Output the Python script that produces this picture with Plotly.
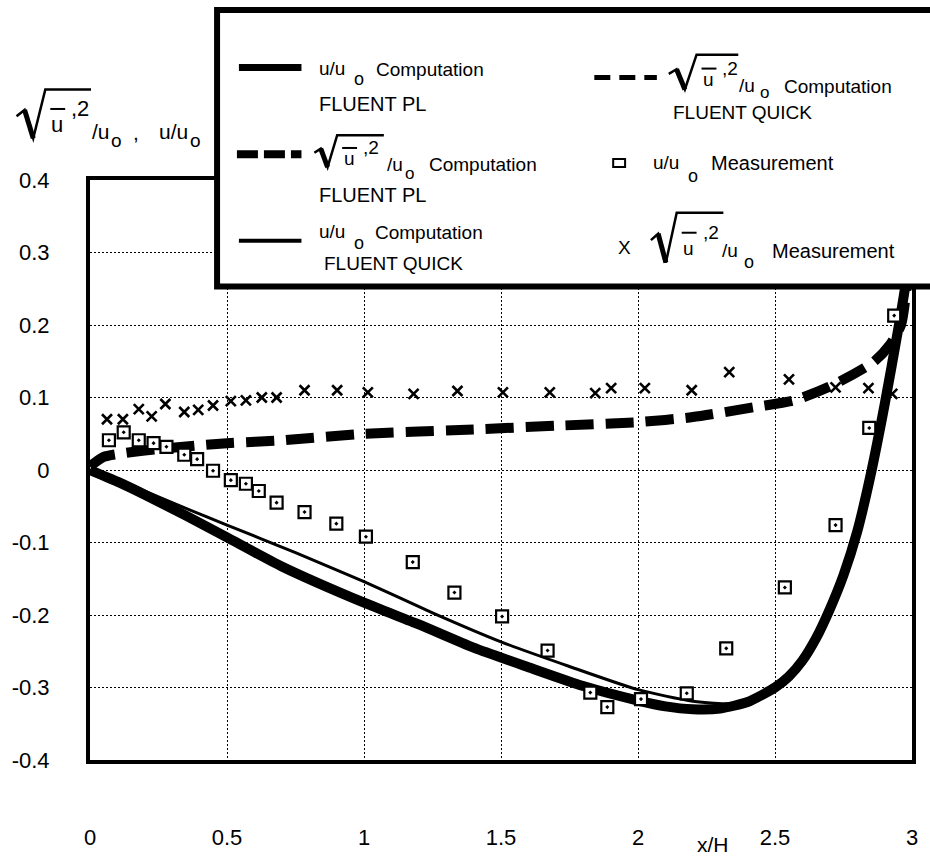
import plotly.graph_objects as go

# ---------------- data ----------------
x_pl_u = [0, 0.1, 0.2, 0.35, 0.5, 0.7, 1.0, 1.2, 1.4, 1.6, 1.8, 2.0, 2.1, 2.2, 2.3, 2.4,
          2.5, 2.55, 2.6, 2.65, 2.7, 2.75, 2.8, 2.85, 2.9, 2.95, 2.98, 3.0]
y_pl_u = [0, -0.016, -0.034, -0.063, -0.093, -0.133, -0.183, -0.213, -0.245, -0.272, -0.298,
          -0.318, -0.326, -0.330, -0.329, -0.320, -0.300, -0.285, -0.263, -0.232, -0.192,
          -0.145, -0.085, -0.005, 0.09, 0.195, 0.265, 0.33]

x_quick_u = [0, 0.1, 0.2, 0.35, 0.5, 0.75, 1.0, 1.25, 1.5, 1.75, 2.0, 2.2, 2.35, 2.45,
             2.5, 2.55, 2.6, 2.65, 2.7, 2.75, 2.8, 2.85, 2.9, 2.95, 2.98, 3.0]
y_quick_u = [0, -0.013, -0.029, -0.053, -0.076, -0.114, -0.154, -0.197, -0.237, -0.271,
             -0.303, -0.319, -0.322, -0.31, -0.298, -0.284, -0.262, -0.231, -0.191,
             -0.144, -0.084, -0.004, 0.09, 0.195, 0.265, 0.33]

x_pl_rms = [0, 0.05, 0.12, 0.2, 0.4, 0.5, 0.7, 1.0, 1.4, 1.7, 2.0, 2.2, 2.43, 2.57,
            2.71, 2.86, 2.92, 2.96, 2.98, 3.0]
y_pl_rms = [0.005, 0.018, 0.023, 0.027, 0.034, 0.037, 0.041, 0.05, 0.056, 0.061, 0.066,
            0.073, 0.087, 0.096, 0.117, 0.149, 0.173, 0.2, 0.25, 0.35]

x_meas_u = [0.069, 0.123, 0.178, 0.232, 0.279, 0.344, 0.391, 0.449, 0.514, 0.569, 0.616,
            0.681, 0.783, 0.899, 1.007, 1.178, 1.330, 1.504, 1.670, 1.826, 1.888, 2.011,
            2.178, 2.322, 2.536, 2.721, 2.844, 2.935]
y_meas_u = [0.041, 0.052, 0.041, 0.037, 0.032, 0.021, 0.015, -0.001, -0.014, -0.019, -0.029,
            -0.045, -0.058, -0.074, -0.092, -0.127, -0.169, -0.202, -0.249, -0.307, -0.327,
            -0.316, -0.308, -0.246, -0.162, -0.076, 0.058, 0.213]

x_meas_rms = [0.062, 0.120, 0.178, 0.225, 0.275, 0.344, 0.395, 0.449, 0.514, 0.569, 0.627,
              0.681, 0.783, 0.902, 1.014, 1.181, 1.341, 1.507, 1.678, 1.844, 1.902, 2.025,
              2.196, 2.333, 2.551, 2.721, 2.841, 2.928]
y_meas_rms = [0.070, 0.070, 0.084, 0.074, 0.091, 0.080, 0.083, 0.089, 0.095, 0.096, 0.100,
              0.100, 0.110, 0.110, 0.107, 0.105, 0.109, 0.107, 0.107, 0.106, 0.113, 0.113,
              0.110, 0.135, 0.125, 0.114, 0.113, 0.105]

x_ticks = [0, 0.5, 1, 1.5, 2, 2.5, 3]
x_ticktext = ["0", "0.5", "1", "1.5", "2", "2.5", "3"]
y_ticks = [0.4, 0.3, 0.2, 0.1, 0, -0.1, -0.2, -0.3, -0.4]
y_ticktext = ["0.4", "0.3", "0.2", "0.1", "0", "-0.1", "-0.2", "-0.3", "-0.4"]

# ---------------- layout helpers ----------------
W, H = 930, 862
ML, MR, MT, MB = 87, 15, 180, 99
PW = W - ML - MR
PH = H - MT - MB
FONT = "Liberation Sans, Arial, sans-serif"


def px(x):
    return (x - ML) / PW


def py(y):
    return (H - MB - y) / PH


annotations = []
shapes = []


def txt(x, y, s, size=19, xanchor="left"):
    annotations.append(dict(x=px(x), y=py(y), xref="paper", yref="paper", text=s,
                            showarrow=False, xanchor=xanchor, yanchor="middle",
                            font=dict(family=FONT, size=size, color="black")))


def seg(x0, y0, x1, y1, w=2, dash="solid"):
    shapes.append(dict(type="line", xref="paper", yref="paper", x0=px(x0), y0=py(y0),
                       x1=px(x1), y1=py(y1), layer="above",
                       line=dict(color="black", width=w, dash=dash)))


def path(pts, w=3):
    d = "M " + " L ".join(f"{px(a):.5f},{py(b):.5f}" for a, b in pts)
    shapes.append(dict(type="path", xref="paper", yref="paper", path=d, layer="above",
                       line=dict(color="black", width=w)))


def sqrt_expr(x0, yt, yb, xtop, xend, size=19):
    h = yb - yt
    a = xtop - x0
    p1 = (x0, yt + 0.55 * h)
    p2 = (x0 + 0.28 * a, yt + 0.42 * h)
    p3 = (x0 + 0.58 * a, yb)
    p4 = (xtop, yt)
    p5 = (xend, yt)
    path([p1, p2, p3, p4, p5], w=2.5)
    path([p2, p3], w=5)
    # overline over u
    seg(xtop + 5, yt + 0.4 * h, xtop + 20, yt + 0.4 * h, w=2)
    txt(xtop + 12, yt + 0.72 * h, "u", size=size, xanchor="center")
    txt(xtop + 24, yt + 0.4 * h, ",2", size=size)


# ---------------- figure ----------------
fig = go.Figure()
fig.add_trace(go.Scatter(x=x_pl_u, y=y_pl_u, mode="lines",
                         line=dict(color="black", width=10, shape="spline", smoothing=0.6)))
fig.add_trace(go.Scatter(x=x_quick_u, y=y_quick_u, mode="lines",
                         line=dict(color="black", width=3, shape="spline", smoothing=0.6)))
fig.add_trace(go.Scatter(x=x_pl_rms, y=y_pl_rms, mode="lines",
                         line=dict(color="black", width=10, dash="28px,12px",
                                   shape="spline", smoothing=0.6)))
fig.add_trace(go.Scatter(x=x_meas_u, y=y_meas_u, mode="markers",
                         marker=dict(symbol="square-dot", size=12, color="white",
                                     line=dict(color="black", width=2.2))))
fig.add_trace(go.Scatter(x=x_meas_rms, y=y_meas_rms, mode="markers",
                         marker=dict(symbol="x-thin-open", size=10, color="black",
                                     line=dict(color="black", width=2.6))))

# ---- y title (top left) ----
sqrt_expr(13, 89, 138, 42, 88, size=22)
txt(87, 131, "/u", size=21)
txt(106, 140, "o", size=19)
txt(128, 132, ",", size=21)
txt(154, 131, "u/u", size=21)
txt(186, 140, "o", size=19)

# ---- x title ----
txt(715, 848, "x/H", size=21, xanchor="center")

# ---- legend box ----
shapes.append(dict(type="rect", xref="paper", yref="paper", x0=px(215), y0=py(9),
                   x1=px(950), y1=py(287), layer="above", fillcolor="white",
                   line=dict(color="black", width=6)))

# entry 1
seg(237, 67, 300, 67, w=7)
txt(316, 68, "u/u", size=19)
txt(351, 78, "o", size=18)
txt(373, 69, "Computation", size=19)
txt(316, 104, "FLUENT PL", size=20)
# entry 2
seg(235, 154, 300, 154, w=8, dash="21px,6px")
sqrt_expr(313, 135, 167, 336, 383, size=19)
txt(384, 164, "/u", size=19)
txt(402, 173, "o", size=17)
txt(426, 164, "Computation", size=19)
txt(316, 195, "FLUENT PL", size=20)
# entry 3
seg(237, 241, 300, 241, w=4)
txt(316, 232, "u/u", size=19)
txt(351, 243, "o", size=18)
txt(372, 233, "Computation", size=19)
txt(321, 264, "FLUENT QUICK", size=19)
# entry 4
seg(595, 77, 658, 77, w=5, dash="16px,9px")
sqrt_expr(670, 54, 89, 698, 740, size=19)
txt(739, 85, "/u", size=19)
txt(760, 92, "o", size=17)
txt(784, 86, "Computation", size=19)
txt(672, 112, "FLUENT QUICK", size=19)
# entry 5
shapes.append(dict(type="rect", xref="paper", yref="paper", x0=px(614), y0=py(159),
                   x1=px(626), y1=py(167), layer="above", fillcolor="white",
                   line=dict(color="black", width=2)))
txt(652, 162, "u/u", size=19)
txt(687, 176, "o", size=18)
txt(711, 163, "Measurement", size=20)
# entry 6
txt(625, 248, "X", size=19, xanchor="center")
sqrt_expr(652, 213, 263, 678, 725, size=19)
txt(722, 251, "/u", size=19)
txt(744, 262, "o", size=18)
txt(772, 251, "Measurement", size=20)

axis_common = dict(showgrid=True, gridcolor="black", gridwidth=1.3, griddash="2px,2px",
                   showline=True, linecolor="black", linewidth=4, mirror=True,
                   zeroline=False, ticks="outside", tickcolor="rgba(0,0,0,0)",
                   tickfont=dict(family=FONT, size=22, color="black"))

fig.update_layout(
    width=W, height=H, margin=dict(l=ML, r=MR, t=MT, b=MB),
    paper_bgcolor="white", plot_bgcolor="white", showlegend=False,
    xaxis=dict(range=[0, 3], tickvals=x_ticks, ticktext=x_ticktext, ticklen=55,
               **axis_common),
    yaxis=dict(range=[-0.4, 0.4], tickvals=y_ticks, ticktext=y_ticktext, ticklen=32,
               **axis_common),
    annotations=annotations, shapes=shapes,
)

fig.write_html("out.html", config={"displayModeBar": False},
               post_script="document.body.style.margin='0';document.body.style.overflow='hidden';")
